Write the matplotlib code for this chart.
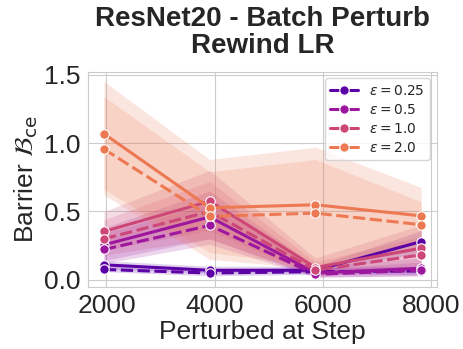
import matplotlib
matplotlib.use('Agg')
import matplotlib.pyplot as plt
import seaborn as sns
import numpy as np

sns.set_style('whitegrid')
plt.rcParams['font.family'] = ['Liberation Sans', 'DejaVu Sans']

steps = [1955, 3910, 5865, 7820]
eps_labels = ['0.25', '0.5', '1.0', '2.0']

# mean barrier per eps, solid (first style) and dashed (second style)
solid_mean = {
    '0.25': [0.11, 0.07, 0.07, 0.28],
    '0.5': [0.256, 0.46, 0.05, 0.085],
    '1.0': [0.354, 0.575, 0.09, 0.232],
    '2.0': [1.068, 0.527, 0.549, 0.468],
}
dashed_mean = {
    '0.25': [0.076, 0.05, 0.06, 0.065],
    '0.5': [0.222, 0.398, 0.04, 0.07],
    '1.0': [0.30, 0.50, 0.07, 0.183],
    '2.0': [0.956, 0.464, 0.488, 0.403],
}
# confidence band (low, high)
solid_lo = {
    '0.25': [0.08, 0.05, 0.05, 0.20],
    '0.5': [0.14, 0.30, 0.02, 0.03],
    '1.0': [0.22, 0.36, 0.03, 0.10],
    '2.0': [0.66, 0.20, 0.10, 0.27],
}
solid_hi = {
    '0.25': [0.14, 0.10, 0.10, 0.36],
    '0.5': [0.38, 0.65, 0.10, 0.16],
    '1.0': [0.50, 0.80, 0.16, 0.40],
    '2.0': [1.45, 0.88, 0.97, 0.675],
}
dashed_lo = {
    '0.25': [0.06, 0.03, 0.04, 0.04],
    '0.5': [0.12, 0.26, 0.02, 0.03],
    '1.0': [0.18, 0.30, 0.03, 0.08],
    '2.0': [0.62, 0.15, 0.08, 0.22],
}
dashed_hi = {
    '0.25': [0.10, 0.08, 0.09, 0.10],
    '0.5': [0.34, 0.56, 0.08, 0.13],
    '1.0': [0.44, 0.72, 0.13, 0.32],
    '2.0': [1.34, 0.79, 0.88, 0.57],
}

colors = plt.cm.plasma([1/6, 2/6, 3/6, 4/6])

fig, ax = plt.subplots(figsize=(4.64, 3.49), dpi=100)
fig.subplots_adjust(left=0.19, right=0.942, top=0.795, bottom=0.1785)

for eps, c in zip(eps_labels, colors):
    ax.fill_between(steps, solid_lo[eps], solid_hi[eps], color=c, alpha=0.18, linewidth=0)
    ax.plot(steps, solid_mean[eps], color=c, lw=2.2, marker='o', ms=6.8,
            mec='white', mew=0.8, label=r'$\varepsilon = %s$' % eps)
    ax.fill_between(steps, dashed_lo[eps], dashed_hi[eps], color=c, alpha=0.18, linewidth=0)
    ax.plot(steps, dashed_mean[eps], color=c, lw=2.2, ls=(0, (4, 1.5)), marker='o', ms=6.8,
            mec='white', mew=0.8)

ax.set_ylim(-0.05, 1.523)
ax.set_xticks([2000, 4000, 6000, 8000])
ax.set_yticks([0.0, 0.5, 1.0, 1.5])
ax.tick_params(labelsize=19, pad=2)
ax.set_xlabel('Perturbed at Step', fontsize=19, labelpad=1)
ax.set_ylabel(r'Barrier $\mathcal{B}_{\mathrm{ce}}$', fontsize=19, labelpad=3)
ax.set_title('ResNet20 - Batch Perturb\nRewind LR', fontsize=20, fontweight='bold',
             pad=13, linespacing=1.08)
ax.legend(loc='upper right', fontsize=10, handlelength=2.0, labelspacing=0.35)

fig.savefig('out.png', dpi=100)
